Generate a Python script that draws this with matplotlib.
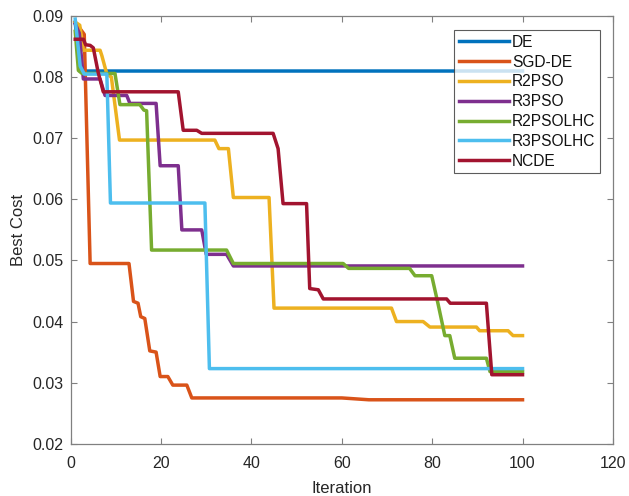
import matplotlib
matplotlib.use("Agg")
import matplotlib.pyplot as plt

plt.rcParams['font.family'] = ['Liberation Sans', 'DejaVu Sans']

# Series names (legend order)
names = ['DE', 'SGD-DE', 'R2PSO', 'R3PSO', 'R2PSOLHC', 'R3PSOLHC', 'NCDE']

# breakpoints (iteration, best cost)
de_x = [1, 2, 100]
de_y = [0.089, 0.081, 0.081]

sgd_x = [1, 2, 3, 4.3, 12.9, 13.9, 14.9, 15.5, 16.4, 17.5, 18.9, 19.8, 21.5, 22.6, 25.7, 26.8, 60, 66, 100]
sgd_y = [0.089, 0.088, 0.087, 0.0495, 0.0495, 0.0433, 0.0430, 0.0408, 0.0405, 0.0352, 0.0350, 0.0310, 0.0310, 0.0296, 0.0296, 0.0275, 0.0275, 0.0272, 0.0272]

r2pso_x = [1, 2, 2.8, 6.5, 6.9, 8, 9, 10.8, 31.9, 32.8, 34.9, 36, 43.9, 45, 71, 72.1, 78, 79.5, 89.8, 90.5, 96.8, 97.9, 100]
r2pso_y = [0.089, 0.0885, 0.0844, 0.0844, 0.0835, 0.0805, 0.0800, 0.0697, 0.0697, 0.0683, 0.0683, 0.0603, 0.0603, 0.0422, 0.0422, 0.0400, 0.0400, 0.0391, 0.0391, 0.0385, 0.0385, 0.0377, 0.0377]

r3pso_x = [1, 1.9, 2.8, 6.5, 7.6, 12.4, 13.1, 18.9, 19.8, 23.8, 24.6, 29, 30, 34.5, 36, 100]
r3pso_y = [0.0887, 0.0872, 0.0797, 0.0797, 0.0770, 0.0770, 0.0757, 0.0757, 0.0655, 0.0655, 0.0550, 0.0550, 0.0510, 0.0510, 0.0491, 0.0491]

r2lhc_x = [1, 1.7, 2.5, 9.8, 10.9, 15.3, 16.2, 16.8, 17.9, 34.5, 36, 60.3, 61.5, 75, 76.2, 79.9, 81.3, 82.8, 83.9, 85, 92, 92.8, 100]
r2lhc_y = [0.0875, 0.0811, 0.0806, 0.0806, 0.0755, 0.0755, 0.0746, 0.0745, 0.0517, 0.0517, 0.0495, 0.0495, 0.0487, 0.0487, 0.0475, 0.0475, 0.0429, 0.0377, 0.0377, 0.0340, 0.0340, 0.0318, 0.0318]

r3lhc_x = [1, 2.1, 3, 8, 8.8, 29.7, 30.7, 100]
r3lhc_y = [0.0895, 0.0818, 0.0805, 0.0805, 0.0594, 0.0594, 0.0323, 0.0323]

ncde_x = [1, 2.8, 3.3, 4.3, 5, 6.1, 6.9, 7.2, 23.8, 24.9, 27.9, 29, 44.8, 45.9, 47, 52.2, 52.9, 54.8, 55.9, 83.2, 84, 92, 93.2, 100]
ncde_y = [0.0862, 0.0862, 0.0853, 0.0852, 0.0848, 0.0807, 0.0785, 0.0776, 0.0776, 0.0713, 0.0713, 0.0708, 0.0708, 0.0683, 0.0593, 0.0593, 0.0454, 0.0452, 0.0437, 0.0437, 0.0430, 0.0430, 0.0313, 0.0313]

xs = [de_x, sgd_x, r2pso_x, r3pso_x, r2lhc_x, r3lhc_x, ncde_x]
ys = [de_y, sgd_y, r2pso_y, r3pso_y, r2lhc_y, r3lhc_y, ncde_y]

# MATLAB default line colours
colors = ['#0072BD', '#D95319', '#EDB120', '#7E2F8E', '#77AC30', '#4DBEEE', '#A2142F']

fig = plt.figure(figsize=(6.29, 4.96), dpi=100)
ax = fig.add_axes([0.1124, 0.1053, 0.862, 0.8624])

for x, y, c, n in zip(xs, ys, colors, names):
    ax.plot(x, y, color=c, linewidth=2.5, label=n)

ax.set_xlim(0, 120)
ax.set_ylim(0.02, 0.09)
ax.set_xticks(range(0, 121, 20))
ax.set_yticks([0.02, 0.03, 0.04, 0.05, 0.06, 0.07, 0.08, 0.09])
ax.set_yticklabels(['0.02', '0.03', '0.04', '0.05', '0.06', '0.07', '0.08', '0.09'])

for s in ax.spines.values():
    s.set_color('#808080')
    s.set_linewidth(0.9)
ax.tick_params(direction='in', top=True, right=True, length=4, width=0.8,
               color='#808080', labelcolor='#262626', labelsize=11.5)
ax.tick_params(axis='x', pad=9)
ax.tick_params(axis='y', pad=5)

ax.set_xlabel('Iteration', fontsize=12, color='#262626', labelpad=7)
ax.set_ylabel('Best Cost', fontsize=12, color='#262626', labelpad=5)

leg = ax.legend(loc='upper right', bbox_to_anchor=(0.976, 0.967), fontsize=11.2,
                frameon=True, fancybox=False, handlelength=3.2, labelspacing=0.31,
                borderpad=0.3, handletextpad=0.2, borderaxespad=0)
leg.get_frame().set_edgecolor('#333333')
leg.get_frame().set_linewidth(0.8)
for t in leg.get_texts():
    t.set_color('#111111')

fig.savefig('out.png', dpi=100)
